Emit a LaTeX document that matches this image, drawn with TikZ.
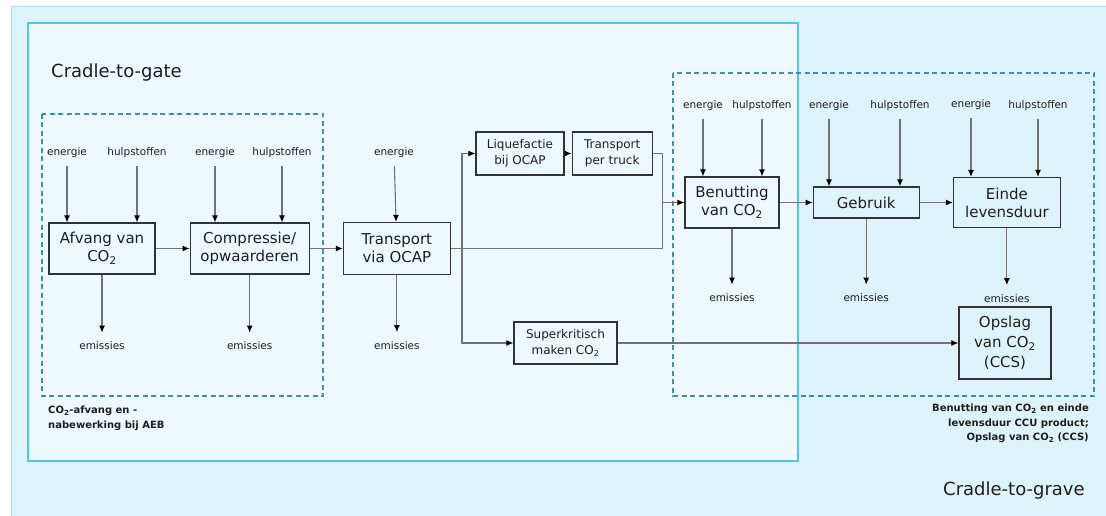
\documentclass[tikz,border=0pt]{standalone}
\usepackage{fontspec}
\setmainfont{DejaVu Sans}
\usetikzlibrary{positioning,arrows.meta}

\definecolor{outerbg}{RGB}{221,244,253}
\definecolor{outerline}{RGB}{170,222,240}
\definecolor{innerbg}{RGB}{238,249,254}
\definecolor{innerline}{RGB}{85,192,234}
\definecolor{dashblue}{RGB}{62,142,172}
\definecolor{linegray}{RGB}{115,115,115}
\definecolor{textdark}{RGB}{30,30,30}
\newcommand{\cotwo}{CO\textsubscript{2}}

\begin{document}
\begin{tikzpicture}[x=1pt,y=-1pt,
  proc/.style={draw=black!80, line width=1.2pt, align=center, inner sep=0pt, text=textdark, font=\fontsize{15}{18}\selectfont},
  sproc/.style={proc, font=\fontsize{12}{16}\selectfont},
  lbl/.style={inner xsep=2pt, inner ysep=8pt, text=textdark, font=\fontsize{10.5}{12}\selectfont},
  emis/.style={lbl, inner ysep=9pt},
  flow/.style={draw=linegray, line width=1.1pt, -{Latex[length=7pt,width=6pt,color=black]}},
  link/.style={draw=linegray, line width=1.1pt},
  zone/.style={draw=dashblue, line width=1.3pt, dash pattern=on 5pt off 3.5pt},
  note/.style={inner sep=0pt, text=textdark, font=\bfseries\fontsize{10}{14.5}\selectfont}]
\useasboundingbox (0,0) rectangle (1106,516);

% achtergrond
\fill[outerbg, draw=outerline, line width=1pt] (11,7) rectangle (1112,522);
\fill[innerbg, draw=innerline, line width=1.5pt] (28,23) rectangle (798,461);
\draw[zone] (42,114) rectangle (323,396);
\draw[zone] (673,73) rectangle (1094,396);

\node[anchor=base west, inner sep=0pt, text=textdark, font=\fontsize{18}{20}\selectfont] (cg) at (51,78) {Cradle-to-gate};
\node[anchor=base west, inner sep=0pt, text=textdark, font=\fontsize{18}{20}\selectfont] (cgr) at (943,495) {Cradle-to-grave};

% processtappen
\node[proc, minimum width=106pt, minimum height=51pt] (a) at (102,248.5) {Afvang van\\\cotwo};
\node[proc, minimum width=119pt, minimum height=51pt, right=34pt of a] (b) {Compressie/\\opwaarderen};
\node[proc, minimum width=107pt, minimum height=52pt, right=33pt of b] (c) {Transport\\via OCAP};
\node[sproc, minimum width=88pt, minimum height=43pt] (d) at (520,153.5) {Liquefactie\\bij OCAP};
\node[sproc, minimum width=80pt, minimum height=43pt, right=7pt of d] (e) {Transport\\per truck};
\node[sproc, minimum width=103pt, minimum height=42pt] (f) at (565.5,343) {Superkritisch\\maken \cotwo};
\node[proc, minimum width=94pt, minimum height=51pt] (g) at (732,202.5) {Benutting\\van \cotwo};
\node[proc, minimum width=106pt, minimum height=31pt, right=33pt of g] (h) {Gebruik};
\node[proc, minimum width=107pt, minimum height=50pt, right=33pt of h] (i) {Einde\\levensduur};
\node[proc, minimum width=92pt, minimum height=72pt, font=\fontsize{15}{20}\selectfont] (o) at (1005,343) {Opslag\\van \cotwo\\(CCS)};

% invoer
\node[lbl] (e1) at (67,153) {energie};
\node[lbl] (h1) at (137,153) {hulpstoffen};
\node[lbl] (e2) at (215,153) {energie};
\node[lbl] (h2) at (282,153) {hulpstoffen};
\node[lbl] (e3) at (394,153) {energie};
\node[lbl] (e4) at (703,106) {energie};
\node[lbl] (h4) at (762,106) {hulpstoffen};
\node[lbl] (e5) at (829,106) {energie};
\node[lbl] (h5) at (900,106) {hulpstoffen};
\node[lbl] (e6) at (971,105) {energie};
\node[lbl] (h6) at (1038,106) {hulpstoffen};

% emissies
\node[emis, below=58pt of a] (m1) {emissies};
\node[emis, below=58pt of b] (m2) {emissies};
\node[emis, below=57pt of c] (m3) {emissies};
\node[emis, below=56pt of g] (m4) {emissies};
\node[emis, below=66pt of h] (m5) {emissies};
\node[emis, below=57pt of i] (m6) {emissies};

% onderschriften
\node[note, anchor=north west, align=left] (capl) at (48,406) {\cotwo-afvang en -\\nabewerking bij AEB};
\node[note, anchor=north east, align=right] (capr) at (1089,404) {Benutting van \cotwo{} en einde\\levensduur CCU product;\\Opslag van \cotwo{} (CCS)};

\coordinate[right=11pt of c] (k);
\coordinate[left=22pt of g] (j);

\draw[flow] (e1) -- (e1 |- a.north);
\draw[flow] (h1) -- (h1 |- a.north);
\draw[flow] (e2) -- (e2 |- b.north);
\draw[flow] (h2) -- (h2 |- b.north);
\draw[flow] (e3) -- (c);
\draw[flow] (e4) -- (e4 |- g.north);
\draw[flow] (h4) -- (h4 |- g.north);
\draw[flow] (e5) -- (e5 |- h.north);
\draw[flow] (h5) -- (h5 |- h.north);
\draw[flow] (e6) -- (e6 |- i.north);
\draw[flow] (h6) -- (h6 |- i.north);

\draw[flow] (a) -- (m1);
\draw[flow] (b) -- (m2);
\draw[flow] (c) -- (m3);
\draw[flow] (g) -- (m4);
\draw[flow] (h) -- (m5);
\draw[flow] (i) -- (m6);

\draw[flow] (a) -- (b);
\draw[flow] (b) -- (c);
\draw[link] (c.east) -| (j);
\draw[link] (e.east) -| (j);
\draw[flow] (j) -- (g);
\draw[flow] (k) |- (d);
\draw[flow] (k) |- (f);
\draw[flow] (d) -- (e);
\draw[flow] (f) -- (o);
\draw[flow] (g) -- (h);
\draw[flow] (h) -- (i);
\end{tikzpicture}
\end{document}
